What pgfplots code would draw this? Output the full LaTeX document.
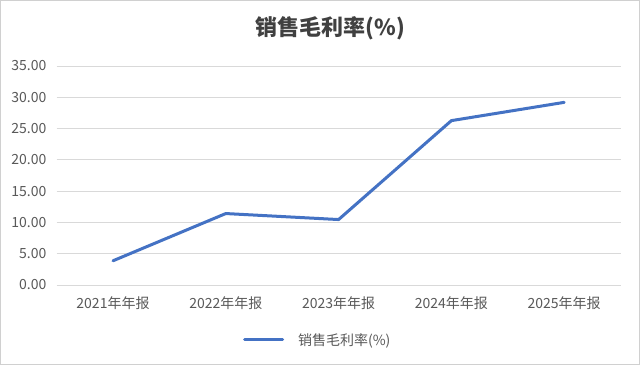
\documentclass[border=0pt]{standalone}
\usepackage{fontspec}
\setmainfont{Noto Sans CJK SC}
\usepackage{pgfplots}
\pgfplotsset{compat=1.18}
\definecolor{linec}{HTML}{4472C4}
\definecolor{gridc}{HTML}{D9D9D9}
\definecolor{tickc}{HTML}{595959}
\definecolor{titlec}{HTML}{404040}
\definecolor{framec}{HTML}{D0D0D0}
\begin{document}
\begin{tikzpicture}
\fill[white] (-56.6pt,-80pt) rectangle (583.4pt,285pt);
\draw[framec, line width=1.2pt] (-56pt,-79.4pt) rectangle (582.8pt,284.4pt);
\begin{axis}[
  at={(0pt,0pt)}, anchor=south west,
  scale only axis, width=564pt, height=219pt,
  xmin=-0.5, xmax=4.5, ymin=0, ymax=35,
  xtick={0,1,2,3,4},
  xticklabels={2021年年报,2022年年报,2023年年报,2024年年报,2025年年报},
  ytick={0,5,10,15,20,25,30,35},
  axis line style={draw=none},
  major tick length=0pt,
  ymajorgrids, grid style={gridc, line width=0.9pt},
  /pgf/number format/assume math mode=true,
  yticklabel={\pgfmathprintnumber[fixed,fixed zerofill,precision=2]{\tick}},
  ticklabel style={font=\fontsize{14}{16}\selectfont, text=tickc},
  yticklabel style={inner sep=0pt, xshift=-10pt},
  xticklabel style={inner sep=0pt, yshift=-11pt},
  legend style={at={(0.463,-0.251)}, anchor=center, draw=none, fill=none,
    font=\fontsize{14}{16}\selectfont, text=tickc,
    nodes={inner sep=2pt}},
  legend image code/.code={\draw[#1] (0pt,0pt) -- (38pt,0pt);},
]
\addplot[linec, line width=3pt, line join=round, line cap=round] coordinates {
  (0,3.87) (1,11.42) (2,10.46) (3,26.27) (4,29.19)
};
\addlegendentry{\hspace{12pt}销售毛利率(\%)}
\end{axis}
\node[text=titlec, font=\fontsize{22}{26}\selectfont\bfseries] at (274pt,257pt) {销售毛利率(\%)};
\end{tikzpicture}
\end{document}
